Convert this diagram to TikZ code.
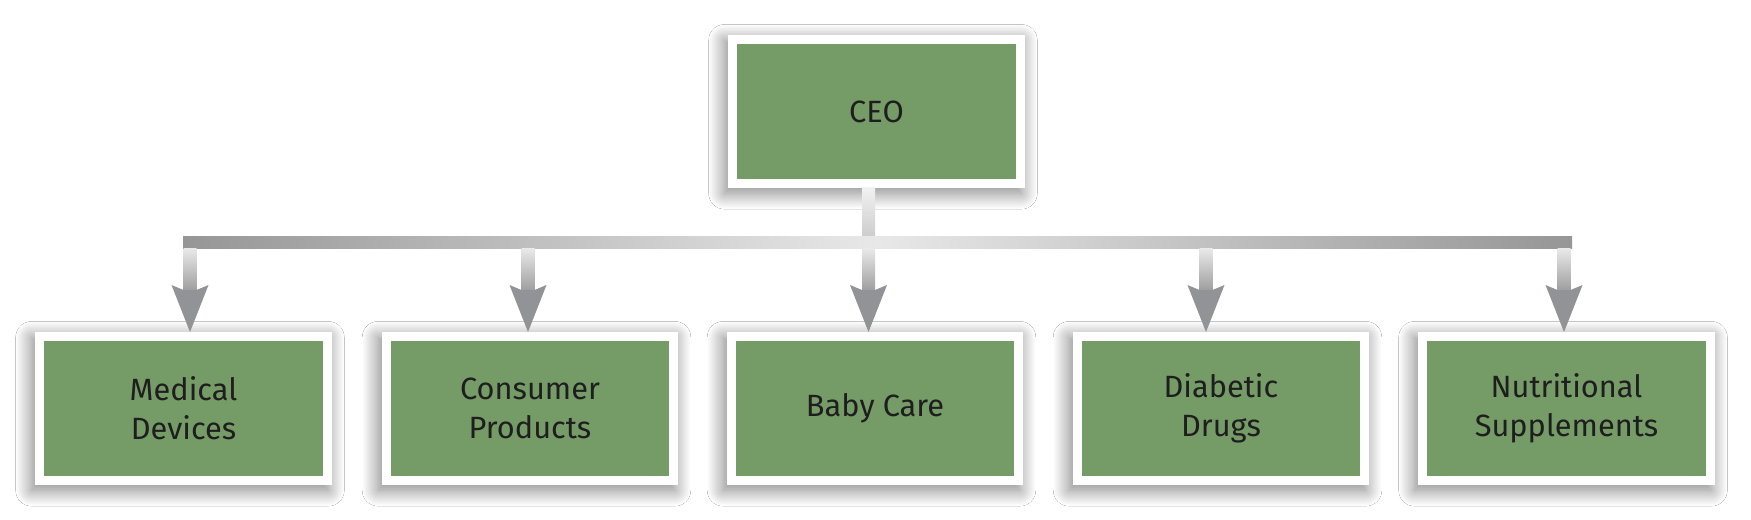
\documentclass[tikz,border=0pt]{standalone}
\usepackage{fontspec}
\setmainfont{Fira Sans}
\usetikzlibrary{calc,positioning,shadows.blur}
\definecolor{unitGreen}{RGB}{117,155,103}
\definecolor{headGray}{RGB}{146,147,151}
\definecolor{barDark}{RGB}{150,150,150}
\definecolor{barLight}{RGB}{232,232,232}
\definecolor{textDark}{RGB}{30,30,30}
\tikzset{
	unit/.style={fill=white, minimum width=5.94cm, minimum height=3.06cm, inner sep=0pt, outer sep=0pt, align=center, text=textDark, font=\fontsize{17.5}{22}\selectfont,
		path picture={\fill[unitGreen] ($(path picture bounding box.south west)+(0.18cm,0.18cm)$) rectangle ($(path picture bounding box.north east)+(-0.18cm,-0.18cm)$);},
		blur shadow={shadow xshift=-2pt, shadow yshift=-3pt, shadow blur radius=9pt, shadow blur steps=24, shadow opacity=50}},
	stemUp/.style={top color=barLight!60!white, bottom color=barLight!88!black},
	stemDown/.style={top color=barLight, bottom color=barDark!95!white},
	tip/.style={fill=headGray},
}

\begin{document}
\begin{tikzpicture}[x=0.02cm, y=-0.02cm]
	\useasboundingbox[fill=white] (0,0) rectangle (1751,520);
	\node (ceo) at (876.5,111.5) [unit] {CEO};
	\node (med) at (183.5,408.5) [unit] {Medical\\Devices};
	\node (cons) at (530,408.5) [unit] {Consumer\\Products};
	\node (baby) at (875,408.5) [unit] {Baby Care};
	\node (diab) at (1221,408.5) [unit] {Diabetic\\Drugs};
	\node (nutr) at (1566.5,408.5) [unit] {Nutritional\\Supplements};
	
	% bus from the CEO
	\coordinate (busL) at (183,243);
	\coordinate (busR) at (1572,243);
	\coordinate (jceo) at (868.5,243);
	\shade[stemUp] ($(jceo |- ceo.south)+(-6.5,0)$) rectangle ($(jceo)+(6.5,-6)$);
	\shade[left color=barDark, right color=barDark, middle color=barLight] ($(busL)+(0,-6)$) rectangle ($(busR)+(0,6)$);
	
	% arrows down to the units
	\foreach \j/\b in {190/med, 528/cons, 868.5/baby, 1206/diab, 1564/nutr}{
		\coordinate (j\b) at (\j,243);
		\coordinate (t\b) at (j\b |- \b.north);
		\shade[stemDown] ($(j\b)+(-6.5,6)$) rectangle ($(t\b)+(6.5,-40)$);
		\fill[tip] (t\b) -- ($(t\b)+(18.5,-47)$) -- ($(t\b)+(6.5,-42)$) -- ($(t\b)+(-6.5,-42)$) -- ($(t\b)+(-18.5,-47)$) -- cycle;
	}
\end{tikzpicture}
\end{document}
